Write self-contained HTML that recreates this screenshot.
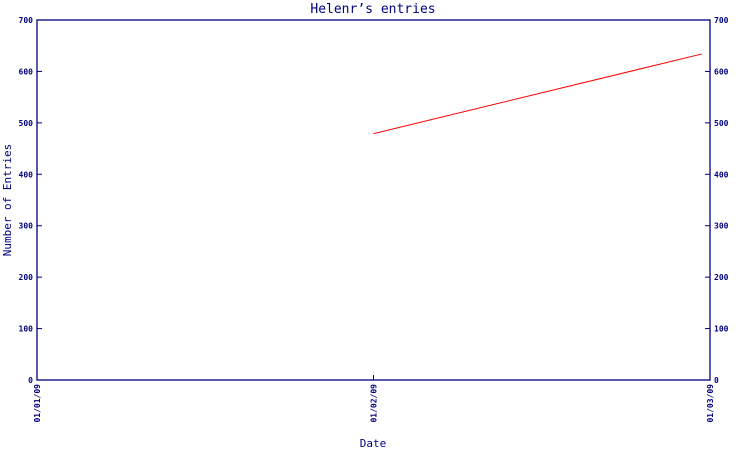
<!DOCTYPE html>
<html><head><meta charset="utf-8"><style>
body{margin:0;background:#fff;}
svg text{font-family:"DejaVu Sans Mono","Liberation Mono",monospace;fill:#000080;}
</style></head><body>
<svg width="750" height="450" xmlns="http://www.w3.org/2000/svg">
<text x="373" y="13" font-size="13" text-anchor="middle">Helenr’s entries</text>
<text x="373" y="447" font-size="11" text-anchor="middle">Date</text>
<text transform="translate(11,200) rotate(-90)" font-size="11" text-anchor="middle">Number of Entries</text>
<g id="axes"></g>
<g id="marks"></g>
</svg>
<script>
const xLabels = ["01/01/09","01/02/09","01/03/09"];
const yTicks = [0,100,200,300,400,500,600,700];
const seriesX = [1, 1.976];
const seriesY = [479, 634];
const L=37,R=710,T=20,B=380;
const xs=i=>L+(R-L)*i/(xLabels.length-1);
const ys=v=>B-(B-T)*v/700;
const NS="http://www.w3.org/2000/svg";
const axes=document.getElementById('axes'),marks=document.getElementById('marks');
function mk(tag,attrs,parent){const e=document.createElementNS(NS,tag);for(const k in attrs)e.setAttribute(k,attrs[k]);parent.appendChild(e);return e;}
const frame=mk('rect',{x:L,y:T,width:R-L,height:B-T,fill:'none',stroke:'#000080','stroke-width':1.3},axes);


yTicks.forEach(v=>{
  const y=ys(v);
  const t1=mk('line',{x1:L,x2:L+5,y1:y,y2:y,stroke:'#000080'},axes);
  
  
  const t2=mk('line',{x1:R-5,x2:R,y1:y,y2:y,stroke:'#000080'},axes);
  
  
  const a=mk('text',{x:L-4,y:y+3,'font-size':8,'text-anchor':'end','font-weight':'bold'},axes);a.textContent=v;
  
  
  const b=mk('text',{x:R+4,y:y+3,'font-size':8,'font-weight':'bold'},axes);b.textContent=v;
  
  
});
xLabels.forEach((lab,i)=>{
  const x=xs(i);
  const t=mk('line',{x1:x,x2:x,y1:B-5,y2:B,stroke:'#000080'},axes);
  
  
  const tx=mk('text',{transform:`translate(${x+3},${B+4}) rotate(-90)`,'font-size':8,'text-anchor':'end','font-weight':'bold'},axes);
  tx.textContent=lab;
  
  
});
const pts=seriesX.map((x,i)=>xs(x)+','+ys(seriesY[i])).join(' ');
const pl=mk('polyline',{points:pts,fill:'none',stroke:'#ff0000','stroke-width':1},marks);


</script>
</body></html>
